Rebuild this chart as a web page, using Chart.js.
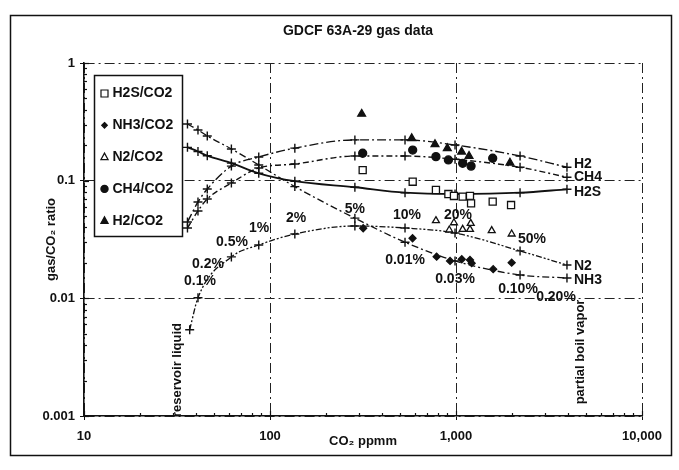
<!DOCTYPE html>
<html>
<head>
<meta charset="utf-8">
<title>GDCF 63A-29 gas data</title>
<script src="https://cdn.jsdelivr.net/npm/chart.js@4.4.1/dist/chart.umd.min.js"></script>
<style>
  html, body { margin: 0; padding: 0; background: #fff; }
  canvas { display: block; }
</style>
</head>
<body>
<canvas id="gas-chart" width="679" height="470"></canvas>
<script>
/**
 * GDCF 63A-29 gas data — boiling model curves vs. measured gas/CO2 ratios.
 */

const INK = '#111';
const FONT = '"Liberation Sans", Arial, sans-serif';

// ─── Data ──────────────────────────────────────────────────────

// model curves (+ markers), CO2 ppmm
const MODEL_CO2 = [36, 41, 46, 62, 87, 136, 286, 532, 988, 2210, 3950];
const MODEL_H2 = [0.0445, 0.0659, 0.0849, 0.133, 0.159, 0.189, 0.222, 0.222, 0.201, 0.162, 0.130];
const MODEL_CH4 = [0.0396, 0.0553, 0.0699, 0.0955, 0.128, 0.1385, 0.162, 0.162, 0.152, 0.130, 0.107];
const MODEL_H2S = [0.192, 0.177, 0.163, 0.141, 0.1155, 0.099, 0.0879, 0.079, 0.077, 0.079, 0.0845];
const MODEL_NH3 = [0.303, 0.2695, 0.240, 0.186, 0.136, 0.089, 0.048, 0.030, 0.0208, 0.0158, 0.0149];
const MODEL_N2_CO2 = [37, 41, 62, 87, 136, 286, 532, 988, 2210, 3950];
const MODEL_N2 = [0.0054, 0.0101, 0.0225, 0.0284, 0.0352, 0.0412, 0.0396, 0.0359, 0.0253, 0.0192];

// measured samples
const OBS_H2S_CO2 = [315, 585, 780, 910, 975, 1086, 1189, 1205, 1575, 1977];
const OBS_H2S = [0.123, 0.098, 0.0833, 0.077, 0.0741, 0.0731, 0.0741, 0.0642, 0.0663, 0.0621];
const OBS_NH3_CO2 = [317, 584, 787, 929, 1074, 1189, 1214, 1585, 1992];
const OBS_NH3 = [0.0394, 0.0324, 0.0226, 0.0208, 0.0215, 0.0212, 0.0199, 0.0177, 0.0201];
const OBS_N2_CO2 = [780, 920, 975, 1086, 1189, 1200, 1556, 1992];
const OBS_N2 = [0.0457, 0.0381, 0.0439, 0.0386, 0.0386, 0.0434, 0.0376, 0.0352];
const OBS_CH4_CO2 = [315, 585, 780, 910, 1086, 1205, 1575];
const OBS_CH4 = [0.171, 0.182, 0.160, 0.150, 0.1405, 0.133, 0.155];
const OBS_H2_CO2 = [311, 578, 771, 898, 1072, 1175, 1950];
const OBS_H2 = [0.369, 0.229, 0.204, 0.188, 0.176, 0.162, 0.142];

// axes
const X_TICK_LABELS = ['10', '100', '1,000', '10,000'];
const Y_TICK_LABELS = ['0.001', '0.01', '0.1', '1'];

// annotations (anchored in data units)
const STEAM_LABELS = ['0.1%', '0.2%', '0.5%', '1%', '2%', '5%', '10%', '20%', '50%'];
const STEAM_LABEL_CO2 = [42, 46.4, 62.5, 87.3, 138, 286, 545, 1025, 2562];
const STEAM_LABEL_RATIO = [0.0140, 0.0196, 0.0301, 0.0396, 0.0482, 0.0574, 0.0511, 0.0511, 0.0319];
const NH3_LABELS = ['0.01%', '0.03%', '0.10%', '0.20%'];
const NH3_LABEL_CO2 = [532, 988, 2154, 3449];
const NH3_LABEL_RATIO = [0.0212, 0.0146, 0.0120, 0.0103];
const SIDE_LABELS = ['reservoir liquid', 'partial boil vapor'];
const SIDE_LABEL_CO2 = [31.6, 4642];
const SIDE_LABEL_RATIO = [0.00246, 0.0035];

// ─── Helpers ───────────────────────────────────────────────────

const isMajor = v => Math.abs(Math.log10(v) - Math.round(Math.log10(v))) < 1e-6;

function decadeTicks(fromExp, toExp) {
  const out = [];
  for (let e = fromExp; e < toExp; e++) {
    for (let m = 1; m < 10; m++) out.push({ value: Number((m * Math.pow(10, e)).toPrecision(6)) });
  }
  out.push({ value: Math.pow(10, toExp) });
  return out;
}

const pts = (xs, ys) => xs.map((x, i) => ({ x, y: ys[i] }));

function modelSet(label, xs, ys, dash, width) {
  return {
    label, data: pts(xs, ys), model: true,
    showLine: true, borderColor: INK, backgroundColor: INK,
    borderWidth: width, borderDash: dash,
    pointStyle: 'cross', pointRadius: 4.5, pointBorderWidth: 1.4,
    pointBorderColor: INK, cubicInterpolationMode: 'monotone', order: 2,
  };
}

function obsSet(label, xs, ys, style, radius, filled) {
  return {
    label, data: pts(xs, ys), model: false, filled,
    showLine: false, pointStyle: style, pointRadius: radius,
    pointBackgroundColor: filled ? INK : '#fff', pointBorderColor: INK,
    pointBorderWidth: 1.3, order: 1,
  };
}

function drawMarker(ctx, style, x, y, r, filled) {
  ctx.beginPath();
  if (style === 'rect') ctx.rect(x - r, y - r, 2 * r, 2 * r);
  else if (style === 'circle') ctx.arc(x, y, r, 0, Math.PI * 2);
  else if (style === 'rectRot') {
    ctx.moveTo(x, y - r); ctx.lineTo(x + r, y); ctx.lineTo(x, y + r); ctx.lineTo(x - r, y); ctx.closePath();
  } else {
    ctx.moveTo(x, y - r); ctx.lineTo(x + r * 0.9, y + r * 0.65); ctx.lineTo(x - r * 0.9, y + r * 0.65); ctx.closePath();
  }
  ctx.fillStyle = filled ? INK : '#fff';
  ctx.fill();
  ctx.stroke();
}

// ─── Decorations: frame, title, legend, labels, inner ticks ───

const decor = {
  id: 'decor',
  beforeDraw(chart) {
    const { ctx } = chart;
    ctx.save();
    ctx.fillStyle = '#fff';
    ctx.fillRect(0, 0, chart.width, chart.height);
    ctx.strokeStyle = INK;
    ctx.lineWidth = 1.5;
    ctx.strokeRect(10.5, 15.5, 661, 440);
    ctx.restore();
  },
  afterDatasetsDraw(chart) {
    const { ctx, scales: { x, y } } = chart;
    const area = chart.chartArea;
    ctx.save();
    ctx.strokeStyle = INK;
    ctx.lineWidth = 1.2;

    // minor/major ticks inside the plot
    x.ticks.forEach(t => {
      const px = Math.round(x.getPixelForValue(t.value)) + 0.5;
      const len = isMajor(t.value) ? 5 : 3;
      ctx.beginPath(); ctx.moveTo(px, area.bottom); ctx.lineTo(px, area.bottom - len); ctx.stroke();
    });
    y.ticks.forEach(t => {
      const py = Math.round(y.getPixelForValue(t.value)) + 0.5;
      const len = isMajor(t.value) ? 5 : 3;
      ctx.beginPath(); ctx.moveTo(area.left, py); ctx.lineTo(area.left + len, py); ctx.stroke();
    });

    // title
    ctx.fillStyle = INK;
    ctx.font = `bold 14px ${FONT}`;
    ctx.textAlign = 'center';
    ctx.textBaseline = 'middle';
    ctx.fillText('GDCF 63A-29 gas data', 358, 31);

    // curve end labels
    ctx.textAlign = 'left';
    const nudge = { H2: -3, CH4: 0, H2S: 3, N2: 1, NH3: 2 };
    chart.data.datasets.filter(d => d.model).forEach(d => {
      const last = d.data[d.data.length - 1];
      ctx.fillText(d.label, x.getPixelForValue(last.x) + 7, y.getPixelForValue(last.y) + (nudge[d.label] || 0));
    });

    // steam-fraction labels
    ctx.textAlign = 'center';
    STEAM_LABELS.forEach((s, i) => {
      ctx.fillText(s, x.getPixelForValue(STEAM_LABEL_CO2[i]), y.getPixelForValue(STEAM_LABEL_RATIO[i]));
    });
    NH3_LABELS.forEach((s, i) => {
      ctx.fillText(s, x.getPixelForValue(NH3_LABEL_CO2[i]), y.getPixelForValue(NH3_LABEL_RATIO[i]));
    });
    ctx.font = `bold 13px ${FONT}`;
    SIDE_LABELS.forEach((s, i) => {
      ctx.save();
      ctx.translate(x.getPixelForValue(SIDE_LABEL_CO2[i]), y.getPixelForValue(SIDE_LABEL_RATIO[i]));
      ctx.rotate(-Math.PI / 2);
      ctx.fillText(s, 0, 0);
      ctx.restore();
    });

    // legend box
    const bx = 94.5, by = 75.5, bw = 88, bh = 161;
    ctx.fillStyle = '#fff';
    ctx.fillRect(bx, by, bw, bh);
    ctx.lineWidth = 1.5;
    ctx.strokeRect(bx, by, bw, bh);
    ctx.lineWidth = 1.2;
    ctx.font = `bold 14px ${FONT}`;
    const sizes = { rect: 3.5, rectRot: 2.8, triangle: 4, circle: 3.6 };
    chart.data.datasets.filter(d => !d.model).forEach((d, i) => {
      const ry = by + 18 + i * 31.8;
      drawMarker(ctx, d.pointStyle, bx + 10, ry, sizes[d.pointStyle], d.filled);
      ctx.fillStyle = INK;
      ctx.textAlign = 'left';
      ctx.fillText(d.label, bx + 18, ry);
    });
    ctx.restore();
  },
};

// ─── Chart ─────────────────────────────────────────────────────

function axisGrid() {
  return {
    color: c => (c.tick && isMajor(c.tick.value) ? '#222' : 'rgba(0,0,0,0)'),
    tickColor: c => (c.tick && isMajor(c.tick.value) ? INK : 'rgba(0,0,0,0)'),
    tickLength: 4,
    tickBorderDash: [],
    lineWidth: 1,
  };
}

function init() {
  Chart.defaults.font.family = FONT;
  Chart.defaults.color = INK;

  new Chart(document.getElementById('gas-chart'), {
    type: 'scatter',
    data: {
      datasets: [
        obsSet('H2S/CO2', OBS_H2S_CO2, OBS_H2S, 'rect', 5, false),
        obsSet('NH3/CO2', OBS_NH3_CO2, OBS_NH3, 'rectRot', 3.5, true),
        obsSet('N2/CO2', OBS_N2_CO2, OBS_N2, 'triangle', 4, false),
        obsSet('CH4/CO2', OBS_CH4_CO2, OBS_CH4, 'circle', 4, true),
        obsSet('H2/CO2', OBS_H2_CO2, OBS_H2, 'triangle', 4.5, true),
        modelSet('H2', MODEL_CO2, MODEL_H2, [9, 3, 2, 3], 1.4),
        modelSet('CH4', MODEL_CO2, MODEL_CH4, [6, 3, 2, 3], 1.4),
        modelSet('H2S', MODEL_CO2, MODEL_H2S, [], 1.8),
        modelSet('N2', MODEL_N2_CO2, MODEL_N2, [6, 2, 2, 2, 2, 2], 1.3),
        modelSet('NH3', MODEL_CO2, MODEL_NH3, [7, 3, 2, 3], 1.3),
      ],
    },
    options: {
      responsive: false,
      animation: false,
      devicePixelRatio: 1,
      layout: { padding: { left: 40, right: 37, top: 63, bottom: 15 } },
      plugins: { legend: { display: false }, tooltip: { enabled: false } },
      scales: {
        x: {
          type: 'logarithmic',
          min: 10,
          max: 10000,
          afterFit: s => { s.height = 39; },
          afterBuildTicks: s => { s.ticks = decadeTicks(1, 4); },
          ticks: {
            autoSkip: false, maxRotation: 0, padding: 9, color: INK,
            font: { size: 13, weight: 'bold' },
            callback: v => (isMajor(v) ? X_TICK_LABELS[Math.round(Math.log10(v)) - 1] : ''),
          },
          grid: axisGrid(),
          border: { color: INK, width: 1.6, dash: [10, 4, 2, 4] },
          title: {
            display: true, text: 'CO₂ ppmm', color: INK,
            font: { size: 13, weight: 'bold' }, padding: { top: 0, bottom: 6 },
          },
        },
        y: {
          type: 'logarithmic',
          min: 0.001,
          max: 1,
          afterFit: s => { s.width = 44; },
          afterBuildTicks: s => { s.ticks = decadeTicks(-3, 0); },
          ticks: {
            autoSkip: false, padding: 5, color: INK,
            font: { size: 13, weight: 'bold' },
            callback: v => (isMajor(v) ? Y_TICK_LABELS[Math.round(Math.log10(v)) + 3] : ''),
          },
          grid: axisGrid(),
          border: { color: INK, width: 1.6, dash: [10, 4, 2, 4] },
          title: {
            display: true, text: 'gas/CO₂ ratio', color: INK,
            font: { size: 13, weight: 'bold' }, padding: { top: 4, bottom: 0 },
          },
        },
      },
    },
    plugins: [decor],
  });
}

document.addEventListener('DOMContentLoaded', init);
</script>
</body>
</html>
